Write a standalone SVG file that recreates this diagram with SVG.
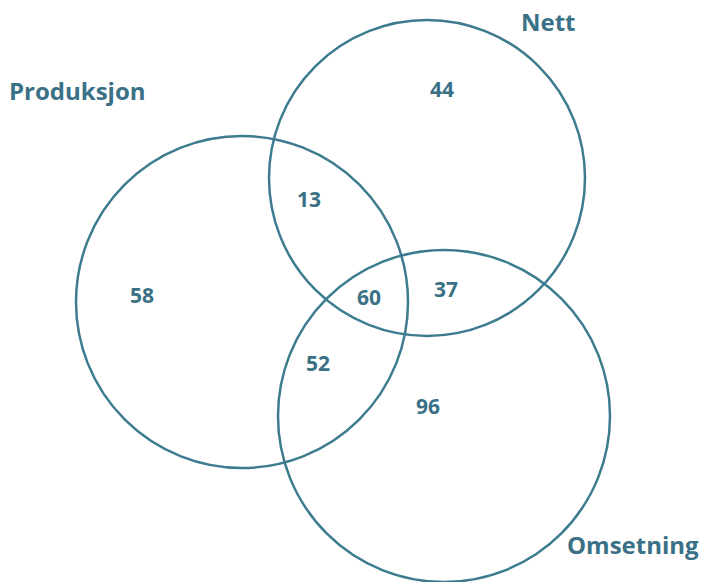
<svg xmlns="http://www.w3.org/2000/svg" width="703" height="582" viewBox="0 0 703 582">
<style>
.c{fill:none;stroke:#3d7b8f;stroke-width:2.5}
.l{font-family:"Open Sans","Liberation Sans",sans-serif;font-weight:bold;fill:#3a7186;font-size:24px}
.n{font-family:"Open Sans","Liberation Sans",sans-serif;font-weight:bold;fill:#3a7186;font-size:21px;text-anchor:middle}
</style>
<rect width="703" height="582" fill="#fff"/>
<g id="produksjon"><circle class="c" cx="242" cy="302" r="166"/><text class="l" x="9" y="100">Produksjon</text></g>
<g id="nett"><circle class="c" cx="427" cy="178" r="158"/><text class="l" x="521" y="31">Nett</text></g>
<g id="omsetning"><circle class="c" cx="444" cy="416" r="166"/><text class="l" x="567" y="554">Omsetning</text></g>
<g id="values">
<text class="n" x="442" y="97">44</text>
<text class="n" x="309" y="207">13</text>
<text class="n" x="142" y="303">58</text>
<text class="n" x="369" y="305">60</text>
<text class="n" x="446" y="297">37</text>
<text class="n" x="318" y="371">52</text>
<text class="n" x="428" y="414">96</text>
</g>
</svg>
